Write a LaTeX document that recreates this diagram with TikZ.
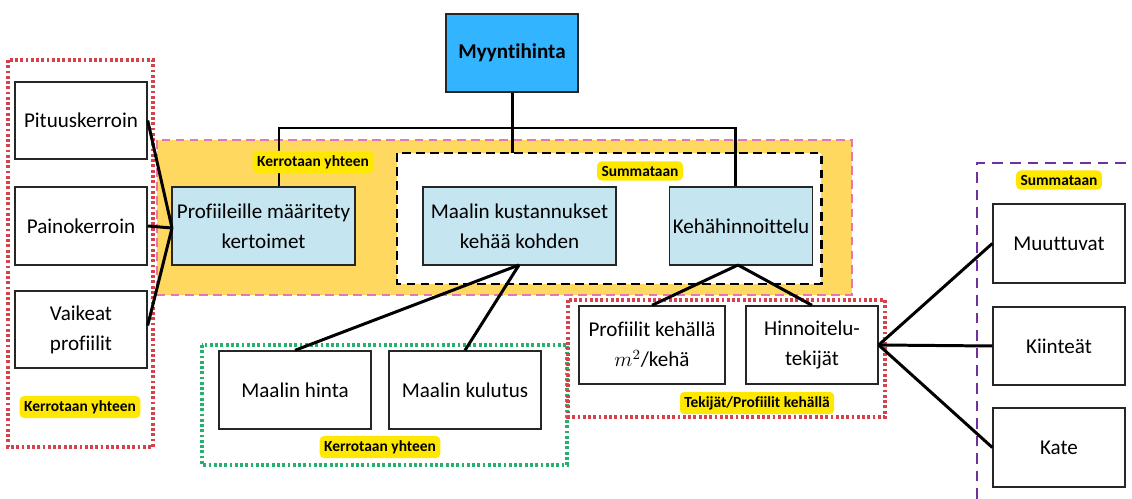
\documentclass[tikz,border=0pt]{standalone}
\usepackage{fontspec}
\setmainfont{Carlito}[Ligatures=NoCommon]
\usetikzlibrary{calc}

\definecolor{topblue}{RGB}{51,180,255}
\definecolor{lightblue}{RGB}{197,229,240}
\definecolor{amber}{RGB}{255,216,96}
\definecolor{pinkdash}{RGB}{232,118,180}
\definecolor{reddot}{RGB}{215,65,75}
\definecolor{greendot}{RGB}{40,175,110}
\definecolor{purpledash}{RGB}{112,48,160}
\definecolor{tagyellow}{RGB}{255,232,0}

\tikzset{
  box/.style={draw=black!85, line width=0.8pt, fill=white, align=center,
    inner sep=2pt, font=\fontsize{12}{17}\selectfont},
  bluebox/.style={box, fill=lightblue},
  tag/.style={fill=tagyellow, rounded corners=2.5pt,
    font=\fontsize{8.8}{10}\selectfont\bfseries, inner sep=2.5pt},
  link/.style={line width=1.7pt, black},
  dotframe/.style={line width=2pt, dash pattern=on 1.6pt off 1.4pt},
  dashframe/.style={line width=1.6pt, dash pattern=on 5pt off 3pt},
}

\begin{document}
\begin{tikzpicture}[x=0.02cm, y=-0.02cm]
\useasboundingbox (0,0) rectangle (1132,499);

% group frames
\draw[dashframe, draw=pinkdash, fill=amber] (157,140) rectangle (852,295);
\draw[dashframe, draw=black, fill=white, line width=1.7pt] (397,153) rectangle (821,284);
\draw[dotframe, draw=reddot] (8,60) rectangle (153,447);
\draw[dotframe, draw=greendot] (202,345) rectangle (567,465);
\draw[dotframe, draw=reddot] (568,300) rectangle (885,417);
\draw[dashframe, draw=purpledash, dash pattern=on 6pt off 4pt] (977,499) |- (1132,163);

% boxes
\node[box, fill=topblue, minimum width=2.64cm, minimum height=1.56cm, font=\fontsize{12}{14}\selectfont\bfseries] (my) at (512,53) {Myyntihinta};

\node[bluebox, minimum width=3.66cm, minimum height=1.56cm] (prof) at (263.5,226) {Profiileille määritety\\kertoimet};
\node[bluebox, minimum width=3.86cm, minimum height=1.56cm] (maal) at (519.5,226) {Maalin kustannukset\\kehää kohden};
\node[bluebox, minimum width=2.84cm, minimum height=1.56cm] (keha) at (741,226) {Kehähinnoittelu};

\node[box, minimum width=2.64cm, minimum height=1.54cm] (pit) at (81,120.5) {Pituuskerroin};
\node[box, minimum width=2.64cm, minimum height=1.56cm] (paino) at (81,226) {Painokerroin};
\node[box, minimum width=2.64cm, minimum height=1.54cm] (vaik) at (81,329.5) {Vaikeat\\profiilit};

\node[box, minimum width=3.04cm, minimum height=1.56cm] (hinta) at (295,390) {Maalin hinta};
\node[box, minimum width=3.04cm, minimum height=1.56cm] (kulut) at (465,390) {Maalin kulutus};

\node[box, minimum width=2.92cm, minimum height=1.56cm] (pkeh) at (652,345) {Profiilit kehällä\\$m^2$/kehä};
\node[box, minimum width=2.64cm, minimum height=1.56cm] (hinn) at (812,345) {Hinnoitelu-\\tekijät};

\node[box, minimum width=2.64cm, minimum height=1.58cm] (muut) at (1059,243.5) {Muuttuvat};
\node[box, minimum width=2.64cm, minimum height=1.56cm] (kiin) at (1059,346) {Kiinteät};
\node[box, minimum width=2.64cm, minimum height=1.58cm] (kate) at (1059,447.5) {Kate};

% tree below the sales price
\coordinate (busL) at (279,128);
\coordinate (busR) at (735,128);
\coordinate (sumtop) at (512,153);
\draw[link] (my.south) -- (sumtop);
\draw[link] (busL |- prof.north) -- (busL) -- (busR) -- (busR |- keha.north);

% coefficient inputs
\coordinate (profin) at (172,228);
\draw[link] (pit.east) -- (profin);
\draw[link] (paino.east) -- (profin);
\draw[link] ($(vaik.east)+(0,-4)$) -- (profin);

% paint cost inputs
\coordinate (maalout) at (519,265);
\draw[link] (maalout) -- (hinta.north);
\draw[link] (maalout) -- (kulut.north);

% frame pricing inputs
\coordinate (kehaout) at (738,265);
\draw[link] (kehaout) -- (pkeh.north);
\draw[link] (kehaout) -- (hinn.north);

% pricing factors
\draw[link] (hinn.east) -- (muut.west);
\draw[link] (hinn.east) -- (kiin.west);
\draw[link] (hinn.east) -- (kate.west);

% operation tags
\node[tag] (t1) at (313,162) {Kerrotaan yhteen};
\node[tag] (t2) at (640,171) {Summataan};
\node[tag] (t3) at (80,407) {Kerrotaan yhteen};
\node[tag] (t4) at (380,447) {Kerrotaan yhteen};
\node[tag] (t5) at (757,403) {Tekijät/Profiilit kehällä};
\node[tag] (t6) at (1059,180) {Summataan};
\end{tikzpicture}
\end{document}
